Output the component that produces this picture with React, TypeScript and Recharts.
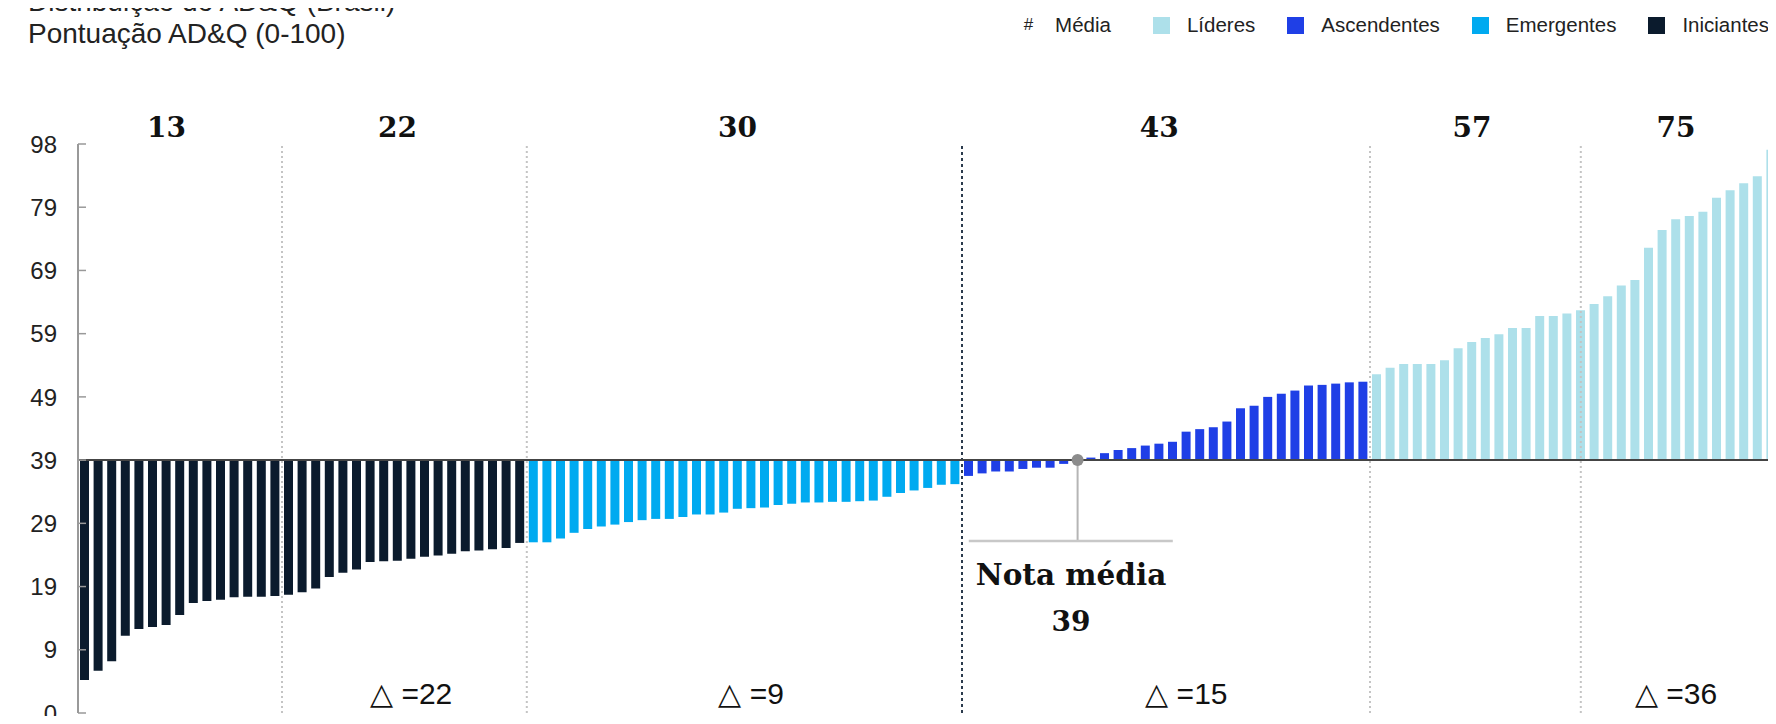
import { BarChart, Bar, XAxis, YAxis, ReferenceLine, ReferenceDot, Cell } from "recharts";

// scores, sorted low to high inside each group
const INICIANTES = [4.2, 5.7, 7.2, 11.2, 12.3, 12.6, 12.9, 14.5, 16.4, 16.7, 16.9, 17.3, 17.4, 17.4, 17.5,
  17.7, 18.1, 18.7, 20.5, 21.2, 21.7, 22.9, 23.0, 23.1, 23.4, 23.7, 23.9, 24.2, 24.6, 24.7, 24.9, 25.1, 25.9];
const EMERGENTES = [26.0, 26.0, 26.6, 27.5, 28.1, 28.5, 28.8, 29.2, 29.5, 29.7, 29.7, 30.0, 30.4, 30.4, 30.7, 31.3,
  31.4, 31.5, 31.9, 32.1, 32.3, 32.3, 32.4, 32.4, 32.5, 32.6, 33.2, 33.8, 34.2, 34.6, 35.1, 35.2];
const ASCENDENTES = [36.5, 36.9, 37.2, 37.2, 37.6, 37.8, 37.8, 38.4, 39.0, 39.4, 40.1, 40.6, 40.9, 41.3, 41.6,
  41.9, 43.5, 43.9, 44.2, 45.1, 47.2, 47.6, 49.0, 49.5, 50.0, 50.8, 50.9, 51.1, 51.3, 51.4];
const LIDERES = [52.6, 53.6, 54.2, 54.2, 54.2, 54.8, 56.7, 57.7, 58.3, 58.9, 59.9, 59.9, 61.8, 61.8, 62.2,
  62.7, 63.7, 64.9, 66.6, 67.5, 72.6, 75.4, 77.1, 77.6, 78.3, 80.5, 81.7, 82.8, 83.9, 88.1];

const MEAN = 39;
const MEAN_INDEX = 73; // company sitting on the mean (zero-height bar)

const GROUPS = ["Iniciantes", "Emergentes", "Ascendentes", "Líderes"];
const GROUP_SCORES = [INICIANTES, EMERGENTES, ASCENDENTES, LIDERES];
const COLORS = ["#0b1b2d", "#00aaf0", "#1f3fe6", "#ade0ea"];

// sub-segments along the x axis with their average and spread
const SUB_SIZES = [15, 18, 32, 30, 15, 15];
const SUB_AVG = [13, 22, 30, 43, 57, 75];
const SUB_DELTA = [null, 22, 9, 15, null, 36];

const Y_TICKS = [-1, 9, 19, 29, 39, 49, 59, 69, 79, 89];
const Y_LABELS = ["0", "9", "19", "29", "39", "49", "59", "69", "79", "98"];

const LEGEND_ORDER = [3, 2, 1, 0];

const rows = GROUP_SCORES.flatMap((arr, g) => arr.map((score) => ({ group: g, score })))
  .map((r, i) => ({ ...r, id: i + 1 }));

const subStarts = SUB_SIZES.map((_, i) => SUB_SIZES.slice(0, i).reduce((a, b) => a + b, 0));
const subMid = subStarts.map((s, i) => s + Math.floor(SUB_SIZES[i] / 2));

const SANS = "'Liberation Sans', Arial, sans-serif";
const SERIF = "'DejaVu Serif', Georgia, serif";

function YTick({ x, y, payload }: any) {
  const label = Y_LABELS[Y_TICKS.indexOf(payload.value)];
  return (
    <g>
      <text x={x} y={y} dy="0.36em" textAnchor="end" fontSize={24} fill="#222" fontFamily={SANS}>{label}</text>
      <line x1={x + 21} x2={x + 29} y1={y} y2={y} stroke="#999" strokeWidth={1.5} />
    </g>
  );
}

const textLabel = (value: string, size: number, font: string, bold: boolean, dx = 0) => (props: any) => {
  const vb = props.viewBox || {};
  return (
    <text x={vb.x + (vb.width || 0) / 2 + dx} y={vb.y + (vb.height || 0) / 2} dy="0.36em" textAnchor="middle"
      fontSize={size} fontFamily={font} fontWeight={bold ? 700 : 400} fill="#111">{value}</text>
  );
};

export default function App() {
  return (
    <div style={{ position: "relative", width: 1776, height: 724, overflow: "hidden", margin: -8, background: "#fff" }}>
      <div style={{ position: "absolute", left: 28, top: -14, fontFamily: SANS, fontSize: 28, lineHeight: "32px", color: "#222", whiteSpace: "nowrap" }}>
        <div>Distribuição do AD&amp;Q (Brasil)</div>
        <div>Pontuação AD&amp;Q (0-100)</div>
      </div>
      <div style={{ position: "absolute", right: 7, top: 13, display: "flex", alignItems: "center", fontFamily: SANS, fontSize: 20.5, color: "#222", whiteSpace: "nowrap" }}>
        <span style={{ marginRight: 22, fontSize: 17 }}>#</span>
        <span style={{ marginRight: 42 }}>Média</span>
        {LEGEND_ORDER.map((g, i) => (
          <span key={g} style={{ display: "flex", alignItems: "center", marginRight: i === 3 ? 0 : 32 }}>
            <span style={{ width: 17, height: 17, background: COLORS[g], marginRight: 17, display: "inline-block" }} />
            {GROUPS[g]}
          </span>
        ))}
      </div>
      <BarChart width={1778} height={724} data={rows} margin={{ top: 144, right: 0, left: 0, bottom: 11 }}>
        <XAxis dataKey="id" type="category" hide />
        <YAxis type="number" domain={[-1, 89]} ticks={Y_TICKS} interval={0} width={78} tickSize={0} tickMargin={21}
          tick={<YTick />} axisLine={{ stroke: "#999", strokeWidth: 2 }} tickLine={false} />
        {subStarts.slice(1).map((s, i) => (
          <ReferenceLine key={s} x={s + 1} position={i === 4 ? "middle" : "start"}
            stroke={s === 65 ? "#2b3b4d" : "#c4c4c4"} strokeWidth={2}
            strokeDasharray={s === 65 ? "3 3" : "2 3"} />
        ))}
        <Bar dataKey={(d: any) => [Math.min(MEAN, d.score), Math.max(MEAN, d.score)]} barSize={9} isAnimationActive={false}>
          {rows.map((r) => <Cell key={r.id} fill={COLORS[r.group]} />)}
        </Bar>
        <ReferenceLine y={MEAN} stroke="#444" strokeWidth={2} />
        <ReferenceLine segment={[{ x: MEAN_INDEX + 1, y: MEAN }, { x: MEAN_INDEX + 1, y: 26.2 }]} stroke="#b5b5b5" strokeWidth={2} />
        <ReferenceLine segment={[{ x: 66, y: 26.2 }, { x: 81, y: 26.2 }]} stroke="#c8c8c8" strokeWidth={2.5} />
        <ReferenceDot x={MEAN_INDEX + 1} y={MEAN} r={6} fill="#8c8c8c" stroke="none" />
        <ReferenceDot x={MEAN_INDEX} y={21} r={0} stroke="none" label={textLabel("Nota média", 29.5, SERIF, true, 7)} />
        <ReferenceDot x={MEAN_INDEX} y={13.6} r={0} stroke="none" label={textLabel(String(MEAN), 28, SERIF, true, 7)} />
        {subMid.map((c, i) => (
          // the top averages sit a little left of centre on the first four segments
          <ReferenceDot key={"avg" + i} x={i < 4 ? c : c + 1} y={91.7} r={0} stroke="none" ifOverflow="visible"
            label={textLabel(String(SUB_AVG[i]), 28, SERIF, true)} />
        ))}
        {subMid.map((c, i) => SUB_DELTA[i] == null ? null : (
          <ReferenceDot key={"d" + i} x={i === 3 ? c + 2 : c + 1} y={2.1} r={0} stroke="none"
            label={textLabel("△ =" + SUB_DELTA[i], 30, SANS, false)} />
        ))}
      </BarChart>
    </div>
  );
}
